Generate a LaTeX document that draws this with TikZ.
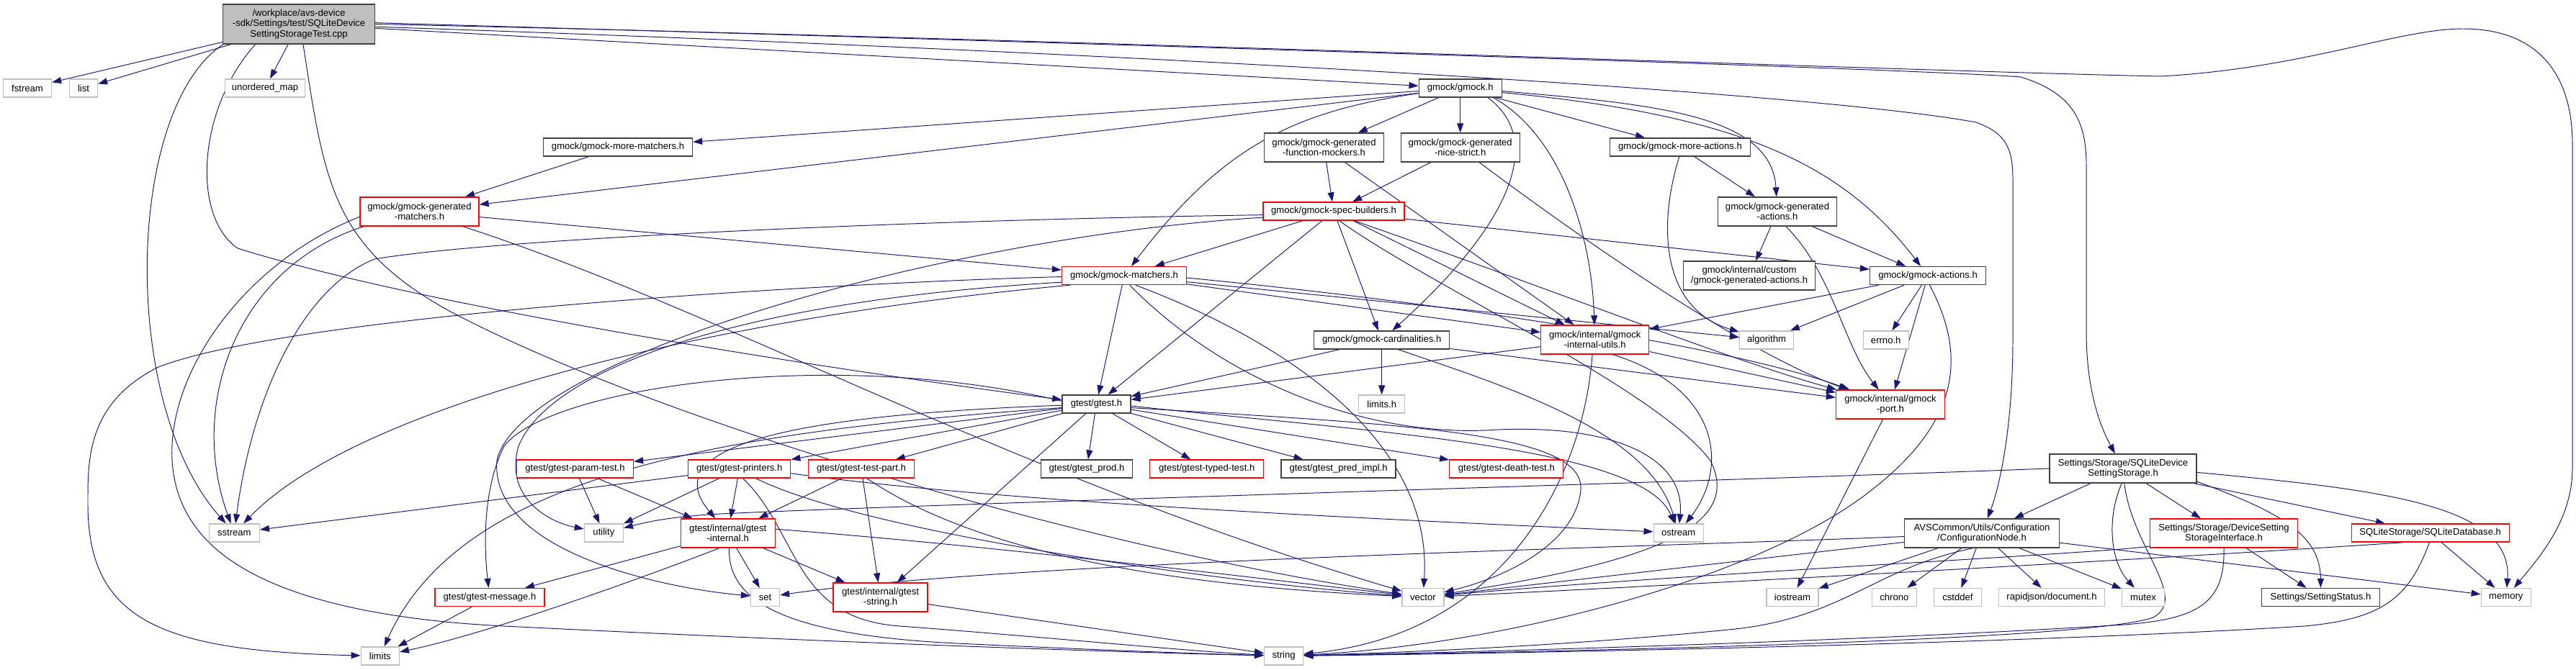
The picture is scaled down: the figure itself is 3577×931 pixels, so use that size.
\documentclass[tikz,border=0pt]{standalone}
\usepackage{fontspec}
\setmainfont{Liberation Sans}
\usetikzlibrary{arrows.meta}
\pgfdeclarelayer{bg}
\pgfsetlayers{bg,main}
\definecolor{edgec}{HTML}{191970}
\definecolor{nborder}{HTML}{404040}
\definecolor{ngrey}{HTML}{BFBFBF}
\definecolor{nred}{HTML}{FF0000}
\begin{document}
\begin{tikzpicture}[x=0.2mm,y=-0.2mm,
 base/.style={rectangle, inner sep=0pt, align=center, font=\fontsize{7.45}{8.1}\selectfont, minimum height=5mm, line width=0.75pt, fill=white},
 nb/.style={base, draw=nborder, minimum width=#1*0.2mm},
 nr/.style={base, draw=nred, minimum width=#1*0.2mm},
 ng/.style={base, draw=ngrey, minimum width=#1*0.2mm},
 h2/.style={minimum height=8mm},
 h3/.style={minimum height=11mm},
 e/.style={draw=edgec, line width=0.55pt, -{Triangle[length=2.6mm,width=1.8mm]}}
]
\useasboundingbox (0,0) rectangle (3577,931);
% ---------- nodes ----------
\node[nb=211,h3,fill=ngrey] (root) at (415,33.5) {/workplace/avs-device\\-sdk/Settings/test/SQLiteDevice\\SettingStorageTest.cpp};
\node[ng=67] (fstream) at (38,122.5) {fstream};
\node[ng=39] (list) at (116,122.5) {list};
\node[ng=111] (umap) at (368,122.5) {unordered\_map};
\node[nr=165,h2] (genmatch) at (582.5,294) {gmock/gmock-generated\\-matchers.h};
\node[nb=207] (morematch) at (858,204.5) {gmock/gmock-more-matchers.h};
\node[nr=173] (matchers) at (1561,383) {gmock/gmock-matchers.h};
\node[nb=166,h2] (genfunc) at (1838.5,205) {gmock/gmock-generated\\-function-mockers.h};
\node[nr=196] (spec) at (1852,293.5) {gmock/gmock-spec-builders.h};
\node[nb=115] (gmock) at (2027.7,122.5) {gmock/gmock.h};
\node[nb=165,h2] (nice) at (2027.7,205) {gmock/gmock-generated\\-nice-strict.h};
\node[nb=195] (moreact) at (2333,204.5) {gmock/gmock-more-actions.h};
\node[nb=165,h2] (genact) at (2468,294) {gmock/gmock-generated\\-actions.h};
\node[nb=183,h2] (custom) at (2429,383) {gmock/internal/custom\\/gmock-generated-actions.h};
\node[nb=161] (actions) at (2677,383) {gmock/gmock-actions.h};
\node[ng=75] (algorithm) at (2453,472.5) {algorithm};
\node[ng=63] (errno) at (2618.7,472.5) {errno.h};
\node[nb=188] (card) at (1918.7,472.5) {gmock/gmock-cardinalities.h};
\node[nr=150,h2] (iutils) at (2214.7,472) {gmock/internal/gmock\\-internal-utils.h};
\node[ng=64] (limitsh) at (1918.7,561.5) {limits.h};
\node[nb=95] (gtest) at (1522.4,561.5) {gtest/gtest.h};
\node[nr=151,h2] (port) at (2625,562) {gmock/internal/gmock\\-port.h};
\node[nr=162] (param) at (798.5,651.5) {gtest/gtest-param-test.h};
\node[nr=142] (printers) at (1026.7,651.5) {gtest/gtest-printers.h};
\node[nr=147] (testpart) at (1196,651.5) {gtest/gtest-test-part.h};
\node[nb=127] (prod) at (1509,651.5) {gtest/gtest\_prod.h};
\node[nr=158] (typed) at (1675.7,651.5) {gtest/gtest-typed-test.h};
\node[nb=159] (pred) at (1858.6,651.5) {gtest/gtest\_pred\_impl.h};
\node[nr=158] (death) at (2091.8,651.5) {gtest/gtest-death-test.h};
\node[ng=70] (sstream) at (325.3,740.5) {sstream};
\node[ng=54] (utility) at (838.4,740.5) {utility};
\node[nr=131,h2] (ginternal) at (1010.7,741) {gtest/internal/gtest\\-internal.h};
\node[ng=69] (ostream) at (2330.7,740.5) {ostream};
\node[nb=204,h2] (sqlstor) at (2948,651) {Settings/Storage/SQLiteDevice\\SettingStorage.h};
\node[nb=215,h2] (confnode) at (2752,741) {AVSCommon/Utils/Configuration\\/ConfigurationNode.h};
\node[nr=205,h2] (devif) at (3088,741) {Settings/Storage/DeviceSetting\\StorageInterface.h};
\node[nr=219] (sqldb) at (3374.7,740.5) {SQLiteStorage/SQLiteDatabase.h};
\node[nr=152] (message) at (680,830) {gtest/gtest-message.h};
\node[ng=40] (set) at (1062.5,830) {set};
\node[nr=131,h2] (gstring) at (1222.6,830) {gtest/internal/gtest\\-string.h};
\node[ng=58] (vector) at (1975.9,830) {vector};
\node[ng=72] (iostream) at (2489,830) {iostream};
\node[ng=62] (chrono) at (2630.4,830) {chrono};
\node[ng=66] (cstddef) at (2718.4,830) {cstddef};
\node[ng=147] (rapid) at (2849,830) {rapidjson/document.h};
\node[ng=59] (mutex) at (2976,830) {mutex};
\node[nb=164] (status) at (3222.5,830) {Settings/SettingStatus.h};
\node[ng=69] (memory) at (3479.8,830) {memory};
\node[ng=53] (limits) at (527.8,911.5) {limits};
\node[ng=54] (string) at (1782.6,911.5) {string};
% ---------- edges ----------
\begin{pgfonlayer}{bg}
\fill[white] (0,0) rectangle (3577,931);
% root
\draw[e] (root) -- (fstream);
\draw[e] (root) -- (list);
\draw[e] (root) -- (umap);
\draw[e] (root.195) .. controls (175,150) and (165,560) .. (sstream);
\draw[e] (root.205) .. controls (275,150) and (265,300) .. (330,345) .. controls (600,430) and (1200,520) .. (gtest);
\draw[e] (root.282) .. controls (450,250) and (460,340) .. (620,430) .. controls (900,580) and (1500,760) .. (vector);
\draw[e] (root) -- (gmock);
\draw[e] (root.1) .. controls (1500,60) and (2650,95) .. (2806,107) .. controls (2880,130) and (2897,170) .. (2897,230) -- (2897,460) .. controls (2897,540) and (2915,590) .. (sqlstor);
\draw[e] (root.0) .. controls (1500,55) and (2700,100) .. (3000,106) .. controls (3200,95) and (3330,40) .. (3420,40) .. controls (3530,40) and (3572,110) .. (3572,200) -- (3572,650) .. controls (3572,720) and (3530,770) .. (memory);
\draw[e] (root.-2) .. controls (1500,70) and (2500,125) .. (2744,170) .. controls (2785,185) and (2795,205) .. (2795,250) -- (2795,470) .. controls (2795,600) and (2775,680) .. (confnode);
% gmock.h
\draw[e] (gmock) -- (morematch);
\draw[e] (gmock) -- (genmatch);
\draw[e] (gmock.187) .. controls (1800,155) and (1700,200) .. (matchers);
\draw[e] (gmock) -- (genfunc);
\draw[e] (gmock) -- (nice);
\draw[e] (gmock.341) .. controls (2140,190) and (2110,300) .. (card);
\draw[e] (gmock.344) .. controls (2170,190) and (2210,330) .. (iutils);
\draw[e] (gmock) -- (moreact);
\draw[e] (gmock.356) .. controls (2300,145) and (2460,160) .. (genact);
\draw[e] (gmock.354) .. controls (2420,160) and (2560,230) .. (actions);
% more-matchers, generated-matchers
\draw[e] (morematch) -- (genmatch);
\draw[e] (genmatch) -- (matchers);
\draw[e] (genmatch.195) .. controls (330,370) and (260,560) .. (sstream);
\draw[e] (genmatch.185) .. controls (300,380) and (180,600) .. (268,727) .. controls (330,820) and (500,860) .. (700,870) .. controls (1100,890) and (1500,905) .. (string);
\draw[e] (genmatch.341) .. controls (1000,430) and (1400,660) .. (vector);
% function mockers, nice strict
\draw[e] (genfunc) -- (spec);
\draw[e] (genfunc) -- (iutils);
\draw[e] (nice) -- (spec);
\draw[e] (nice.322) .. controls (2180,320) and (2420,490) .. (port);
% spec builders
\draw[e] (spec) -- (matchers);
\draw[e] (spec) -- (actions);
\draw[e] (spec) -- (card);
\draw[e] (spec) -- (iutils);
\draw[e] (spec.335) .. controls (2150,400) and (2400,500) .. (port);
\draw[e] (spec) -- (gtest);
\draw[e] (spec.183) .. controls (1300,305) and (700,330) .. (520,360) .. controls (420,400) and (350,550) .. (sstream);
\draw[e] (spec.185) .. controls (1300,330) and (720,500) .. (690,640) .. controls (680,760) and (900,815) .. (set);
\draw[e] (spec.300) .. controls (1990,400) and (2300,540) .. (2375,640) .. controls (2420,730) and (2300,780) .. (vector);
% matchers
\draw[e] (matchers) -- (gtest);
\draw[e] (matchers.190) .. controls (1000,440) and (500,560) .. (sstream);
\draw[e] (matchers.181) .. controls (1100,395) and (400,440) .. (220,510) .. controls (120,560) and (122,640) .. (122,700) .. controls (122,860) and (220,905) .. (limits);
\draw[e] (matchers.186) .. controls (1000,420) and (760,520) .. (720,620) .. controls (700,690) and (760,725) .. (utility);
\draw[e] (matchers.-60) .. controls (1700,530) and (1900,610) .. (2080,597) .. controls (2250,590) and (2340,640) .. (ostream);
\draw[e] (matchers.-40) .. controls (1800,480) and (1990,620) .. (vector);
\draw[e] (matchers) -- (iutils);
\draw[e] (matchers.358) .. controls (2000,420) and (2400,480) .. (port);
\draw[e] (matchers) -- (algorithm);
% cardinalities
\draw[e] (card) -- (limitsh);
\draw[e] (card) -- (gtest);
\draw[e] (card.-30) .. controls (2100,540) and (2290,600) .. (ostream);
\draw[e] (card) -- (port);
% internal utils
\draw[e] (iutils) -- (gtest);
\draw[e] (iutils) -- (port);
\draw[e] (iutils.-40) .. controls (2390,540) and (2400,650) .. (ostream);
\draw[e] (iutils.-100) .. controls (2200,650) and (2100,880) .. (string);
% actions
\draw[e] (actions) -- (iutils);
\draw[e] (actions) -- (algorithm);
\draw[e] (actions) -- (errno);
\draw[e] (actions) -- (port);
\draw[e] (actions.-80) .. controls (2735,500) and (2715,590) .. (2600,680) .. controls (2450,800) and (2100,895) .. (string);
\draw[e] (genact) -- (custom);
\draw[e] (genact) -- (actions);
\draw[e] (genact.-60) .. controls (2545,380) and (2560,480) .. (port);
\draw[e] (moreact) -- (genact);
\draw[e] (moreact.-95) .. controls (2300,320) and (2310,430) .. (algorithm);
\draw[e] (port) -- (iostream);
% gtest.h
\draw[e] (gtest) -- (param);
\draw[e] (gtest) -- (printers);
\draw[e] (gtest) -- (testpart);
\draw[e] (gtest) -- (prod);
\draw[e] (gtest) -- (typed);
\draw[e] (gtest) -- (pred);
\draw[e] (gtest) -- (death);
\draw[e] (gtest.182) .. controls (1150,575) and (900,610) .. (ginternal);
\draw[e] (gtest) -- (gstring);
\draw[e] (gtest.175) .. controls (1150,480) and (760,540) .. (700,620) .. controls (670,680) and (672,760) .. (message);
\draw[e] (gtest.186) .. controls (1000,600) and (640,660) .. (limits);
\draw[e] (gtest.-3) .. controls (1900,600) and (2280,620) .. (ostream);
\draw[e] (gtest.-6) .. controls (1950,590) and (2200,600) .. (2195,680) .. controls (2190,750) and (2100,800) .. (vector);
% printers, param, test part
\draw[e] (printers) -- (sstream);
\draw[e] (printers) -- (utility);
\draw[e] (printers) -- (ginternal);
\draw[e] (printers.-5) .. controls (1400,700) and (2000,725) .. (ostream);
\draw[e] (printers.-30) .. controls (1200,740) and (1700,810) .. (vector);
\draw[e] (printers.-70) .. controls (1110,740) and (1100,860) .. (1250,870) .. controls (1450,885) and (1650,905) .. (string);
\draw[e] (param) -- (utility);
\draw[e] (param) -- (ginternal);
\draw[e] (testpart) -- (ginternal);
\draw[e] (testpart) -- (gstring);
\draw[e] (testpart.-60) .. controls (1330,750) and (1550,810) .. (vector);
% gtest internal
\draw[e] (ginternal) -- (message);
\draw[e] (ginternal.-120) .. controls (900,800) and (680,880) .. (limits);
\draw[e] (ginternal) -- (set);
\draw[e] (ginternal) -- (gstring);
\draw[e] (ginternal.5) .. controls (1400,760) and (1800,810) .. (vector);
\draw[e] (ginternal.-85) .. controls (1010,840) and (1100,885) .. (1350,895) .. controls (1500,902) and (1650,908) .. (string);
\draw[e] (message) -- (limits);
\draw[e] (gstring) -- (string);
% SQLiteDeviceSettingStorage.h
\draw[e] (sqlstor.west) .. controls (2400,668) and (1300,700) .. (1000,714) .. controls (930,718) and (900,725) .. (utility);
\draw[e] (sqlstor) -- (confnode);
\draw[e] (sqlstor.-95) .. controls (2925,720) and (2930,780) .. (mutex);
\draw[e] (sqlstor.-85) .. controls (2960,760) and (3040,830) .. (2990,858) .. controls (2900,890) and (2200,905) .. (string);
\draw[e] (sqlstor) -- (devif);
\draw[e] (sqlstor.-10) .. controls (3160,710) and (3222,740) .. (status);
\draw[e] (sqlstor) -- (sqldb);
\draw[e] (sqlstor.-3) .. controls (3300,680) and (3490,700) .. (memory);
% ConfigurationNode.h
\draw[e] (confnode) .. controls (2300,760) and (1400,780) .. (set);
\draw[e] (confnode) -- (vector);
\draw[e] (confnode) -- (iostream);
\draw[e] (confnode.-120) .. controls (2600,790) and (2560,860) .. (2400,875) .. controls (2200,895) and (2000,905) .. (string);
\draw[e] (confnode) -- (chrono);
\draw[e] (confnode) -- (cstddef);
\draw[e] (confnode) -- (rapid);
\draw[e] (confnode) -- (mutex);
\draw[e] (confnode) -- (memory);
% DeviceSettingStorageInterface.h
\draw[e] (devif.190) .. controls (2900,770) and (2300,800) .. (vector);
\draw[e] (devif.-90) .. controls (3090,840) and (3050,860) .. (2950,868) .. controls (2600,890) and (2100,905) .. (string);
\draw[e] (devif) -- (status);
% SQLiteDatabase.h
\draw[e] (sqldb) -- (memory);
\draw[e] (sqldb.-95) .. controls (3345,830) and (3310,860) .. (3200,870) .. controls (2800,895) and (2100,908) .. (string);
\draw[e] (sqldb.200) .. controls (3100,770) and (2400,810) .. (vector);
\end{pgfonlayer}
\end{tikzpicture}
\end{document}
